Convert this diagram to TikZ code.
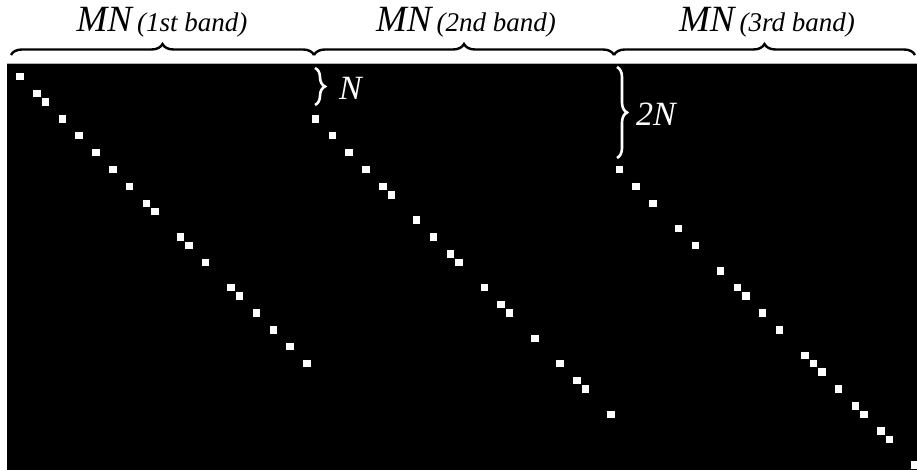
\documentclass[tikz,border=0pt]{standalone}
\usepackage{fontspec}
\setmainfont{Liberation Serif}
\usetikzlibrary{decorations.pathreplacing}
\newcommand\bigit{\fontsize{37}{37}\selectfont\itshape}
\newcommand\smallit{\fontsize{27}{27}\selectfont\itshape}
\newcommand\sideit{\fontsize{34}{34}\selectfont\itshape}
\begin{document}
\begin{tikzpicture}[x=1pt,y=-1pt,
  cell/.style={fill=white},
  bandbrace/.style={decorate,decoration={brace,amplitude=11pt},line width=2.4pt,draw=black},
  rowbrace/.style={decorate,decoration={brace,amplitude=10pt},line width=2.6pt,draw=white},
  head/.style={inner sep=0pt,anchor=base},
  sidelabel/.style={inner sep=0pt,anchor=base west,text=white,font=\sideit}]
% page and matrix area
\fill[white] (0,0) rectangle (917,470);
\useasboundingbox (0,0) rectangle (917,470);
\fill[black] (7,63) rectangle (917,470);
\draw[gray!60,line width=0.8pt] (7,63.4) -- (917,63.4);

% nonzero entries: grid step 8.44, first entry centred at (20,76.7)
\foreach \c/\r/\ks in {0/0/{0,2,3,5,7,9,11,13,15,16,19,20,22,25,26,28,30,32,34},
                       35/5/{0,2,4,6,8,9,12,14,16,17,20,22,23,26,29,31,32,35},
                       71/11/{0,2,4,7,9,12,14,15,17,19,22,23,24,26,28,29,31,32,35}}{
  \foreach \k in \ks {
    \fill[cell] ({20+(\c+\k)*8.44-3.7},{76.7+(\r+\k)*8.44-3.7}) rectangle ++(7.4,7.4);
  }
}

% band braces above the matrix
\coordinate (b0) at (11,55);
\coordinate (b1) at (314,55);
\coordinate (b2) at (614,55);
\coordinate (b3) at (915,55);
\draw[bandbrace] (b0) -- (b1);
\draw[bandbrace] (b1) -- (b2);
\draw[bandbrace] (b2) -- (b3);

\node[head] (t1) at (162,32) {\bigit MN\hspace{5pt}\smallit(1st band)};
\node[head] (t2) at (466,32) {\bigit MN\hspace{5pt}\smallit(2nd band)};
\node[head] (t3) at (767,32) {\bigit MN\hspace{5pt}\smallit(3rd band)};

% row offsets of the second and third bands
\coordinate (n0) at (315,68);
\coordinate (n1) at (315,105);
\draw[rowbrace] (n0) -- (n1);
\node[sidelabel] (nlab) at (339,100) {N};

\coordinate (m0) at (617,67);
\coordinate (m1) at (617,158);
\draw[rowbrace] (m0) -- (m1);
\node[sidelabel] (mlab) at (636,126) {2N};
\end{tikzpicture}
\end{document}
